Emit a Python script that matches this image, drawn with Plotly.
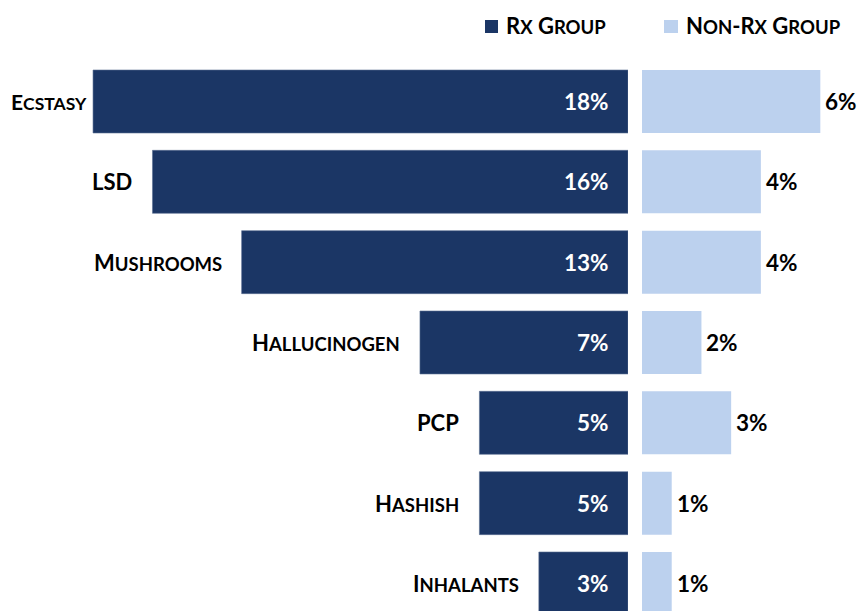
import plotly.graph_objects as go

categories = ["Ecstasy", "LSD", "Mushrooms", "Hallucinogen", "PCP", "Hashish", "Inhalants"]
rx_values = [18, 16, 13, 7, 5, 5, 3]
nonrx_values = [6, 4, 4, 2, 3, 1, 1]
series_names = ["Rx Group", "Non-Rx Group"]

DARK = "#1b3665"
LIGHT = "#bcd1ee"
FONT = "Lato"
W, H = 860, 611
BIG, SMALL = 22, 18.5


def small_caps(s, small=SMALL):
    out = []
    for ch in s:
        if ch.islower():
            out.append(f'<span style="font-size:{small}px">{ch.upper()}</span>')
        else:
            out.append(ch)
    return "".join(out)


fig = go.Figure()
fig.add_trace(go.Bar(y=categories, x=rx_values, orientation="h", xaxis="x", yaxis="y",
                     marker=dict(color=DARK, line=dict(color="#5a6f92", width=0.6)),
                     name=series_names[0], hoverinfo="skip"))
fig.add_trace(go.Bar(y=categories, x=nonrx_values, orientation="h", xaxis="x2", yaxis="y",
                     marker=dict(color=LIGHT, line=dict(width=0)),
                     name=series_names[1], hoverinfo="skip"))

ann = []
lab_font = dict(family=FONT, size=BIG, color="black", weight="bold")
pct_font = dict(family=FONT, size=22.5, weight="bold")
for i, (c, r, n) in enumerate(zip(categories, rx_values, nonrx_values)):
    if i == 0:
        ann.append(dict(text=small_caps(c, 17.5), xref="paper", x=9 / W, xanchor="left", yref="y", y=c,
                        yanchor="middle", showarrow=False, font=dict(lab_font, size=21)))
    else:
        ann.append(dict(text=small_caps(c), xref="x", x=r, xanchor="right", xshift=-18, yref="y", y=c,
                        yanchor="middle", showarrow=False, font=lab_font))
    ann.append(dict(text=f"{r}%", xref="x", x=0, xanchor="right", xshift=-17, yref="y", y=c,
                    yanchor="middle", showarrow=False, font=dict(pct_font, color="white")))
    ann.append(dict(text=f"{n}%", xref="x2", x=n, xanchor="left", xshift=3, yref="y", y=c,
                    yanchor="middle", showarrow=False, font=dict(pct_font, color="black")))

# legend
ann.append(dict(text=small_caps(series_names[0]), xref="paper", x=504 / W, xanchor="left",
                yref="paper", y=1 - 26 / H, yanchor="middle", showarrow=False, font=lab_font))
ann.append(dict(text=small_caps(series_names[1]), xref="paper", x=684 / W, xanchor="left",
                yref="paper", y=1 - 26 / H, yanchor="middle", showarrow=False, font=lab_font))
shapes = [
    dict(type="rect", xref="paper", yref="paper", x0=485 / W, x1=498 / W,
         y0=1 - 33 / H, y1=1 - 20 / H, fillcolor=DARK, line=dict(width=0)),
    dict(type="rect", xref="paper", yref="paper", x0=664 / W, x1=678 / W,
         y0=1 - 33 / H, y1=1 - 20 / H, fillcolor=LIGHT, line=dict(width=0)),
]

px_per = 29.72
top_px = 60
pitch = 80.33
c0 = 101.5
fig.update_layout(
    width=W, height=H, margin=dict(l=0, r=0, t=0, b=0),
    paper_bgcolor="white", plot_bgcolor="white", showlegend=False,
    bargap=0.216,
    xaxis=dict(domain=[0, 628 / W], range=[628 / px_per, 0], visible=False, fixedrange=True),
    xaxis2=dict(domain=[642 / W, 1], range=[0, (W - 642) / px_per], visible=False,
                anchor="y", fixedrange=True),
    yaxis=dict(domain=[0, (H - top_px) / H], categoryorder="array", categoryarray=categories,
               range=[(H - c0) / pitch, (top_px - c0) / pitch], visible=False, fixedrange=True),
    annotations=ann, shapes=shapes,
)
fig.write_html("out.html", config={"displayModeBar": False},
               post_script="document.body.style.margin='0';document.body.style.overflow='hidden';")
